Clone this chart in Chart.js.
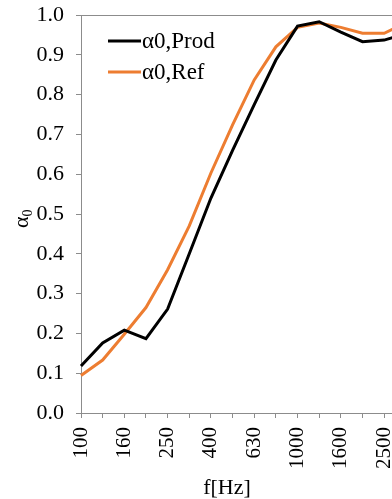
<!DOCTYPE html>
<html>
<head>
<meta charset="utf-8">
<script src="https://cdn.jsdelivr.net/npm/chart.js@4/dist/chart.umd.min.js"></script>
<style>
body { margin: 0; overflow: hidden; background: #fff; }
#wrap { width: 392px; height: 499px; overflow: hidden; }
</style>
</head>
<body>
<div id="wrap"><canvas id="chart" width="440" height="499"></canvas></div>
<script>
// values
const freqs = ["100", "125", "160", "200", "250", "315", "400", "500", "630", "800", "1000", "1250", "1600", "2000", "2500", "3150"];
const prodValues = [0.118, 0.176, 0.208, 0.187, 0.261, 0.40, 0.54, 0.66, 0.775, 0.887, 0.972, 0.983, 0.957, 0.933, 0.937, 0.953];
const refValues = [0.094, 0.133, 0.198, 0.265, 0.36, 0.47, 0.603, 0.724, 0.837, 0.92, 0.969, 0.98, 0.969, 0.954, 0.954, 0.98];

const FONT = "'Liberation Serif', 'Times New Roman', serif";
const AXIS = "#8c8c8c";

// frame top line, legend and axis titles
const extras = {
    id: "extras",
    afterDraw(chart) {
        const ctx = chart.ctx;
        const area = chart.chartArea;
        ctx.save();

        ctx.strokeStyle = AXIS;
        ctx.lineWidth = 1;
        ctx.beginPath();
        ctx.moveTo(area.left, area.top + 0.5);
        ctx.lineTo(area.right, area.top + 0.5);
        ctx.stroke();

        // legend
        ctx.font = "23px " + FONT;
        ctx.textBaseline = "middle";
        chart.data.datasets.forEach((ds, i) => {
            const y = 41 + i * 31;
            ctx.strokeStyle = ds.borderColor;
            ctx.lineWidth = 3;
            ctx.beginPath();
            ctx.moveTo(108, y);
            ctx.lineTo(141, y);
            ctx.stroke();
            ctx.fillStyle = "#000";
            ctx.fillText(ds.label, 142, y + 1);
        });

        // x title
        ctx.font = "22px " + FONT;
        ctx.textAlign = "center";
        ctx.textBaseline = "alphabetic";
        ctx.fillText("f[Hz]", 227, 494);

        // y title: alpha with subscript 0
        ctx.translate(28, 216);
        ctx.rotate(-Math.PI / 2);
        ctx.textAlign = "left";
        ctx.font = "22px " + FONT;
        ctx.fillText("α", -12, 0);
        const w = ctx.measureText("α").width;
        ctx.font = "14px " + FONT;
        ctx.fillText("0", -12 + w, 4);
        ctx.restore();
    }
};

new Chart(document.getElementById("chart"), {
    type: "line",
    data: {
        labels: freqs,
        datasets: [{
            label: "α0,Prod",
            data: prodValues,
            borderColor: "#000000",
            borderWidth: 3,
            pointRadius: 0,
            tension: 0
        }, {
            label: "α0,Ref",
            data: refValues,
            borderColor: "#ED7D31",
            borderWidth: 3,
            pointRadius: 0,
            tension: 0
        }]
    },
    options: {
        responsive: false,
        animation: false,
        layout: {
            padding: { left: 0, top: 15, right: 20, bottom: 0 }
        },
        plugins: {
            legend: { display: false },
            tooltip: { enabled: false }
        },
        scales: {
            x: {
                offset: false,
                afterFit: scale => { scale.height = 86; },
                grid: {
                    drawOnChartArea: false,
                    drawTicks: true,
                    tickLength: 5,
                    color: AXIS
                },
                border: { display: true, color: AXIS, width: 1 },
                ticks: {
                    autoSkip: false,
                    minRotation: 90,
                    maxRotation: 90,
                    padding: 9,
                    color: "#000",
                    font: { family: FONT, size: 21 },
                    callback: function (val, index) {
                        return index % 2 === 0 ? this.getLabelForValue(val) : "";
                    }
                }
            },
            y: {
                min: 0,
                max: 1,
                afterFit: scale => {
                    scale.width = 81;
                    scale.paddingTop = 0;
                    scale.paddingBottom = 0;
                },
                grid: {
                    drawOnChartArea: false,
                    drawTicks: true,
                    tickLength: 5,
                    color: AXIS
                },
                border: { display: true, color: AXIS, width: 1 },
                ticks: {
                    stepSize: 0.1,
                    padding: 12,
                    color: "#000",
                    font: { family: FONT, size: 22 },
                    callback: v => v.toFixed(1)
                }
            }
        }
    },
    plugins: [extras]
});
</script>
</body>
</html>
